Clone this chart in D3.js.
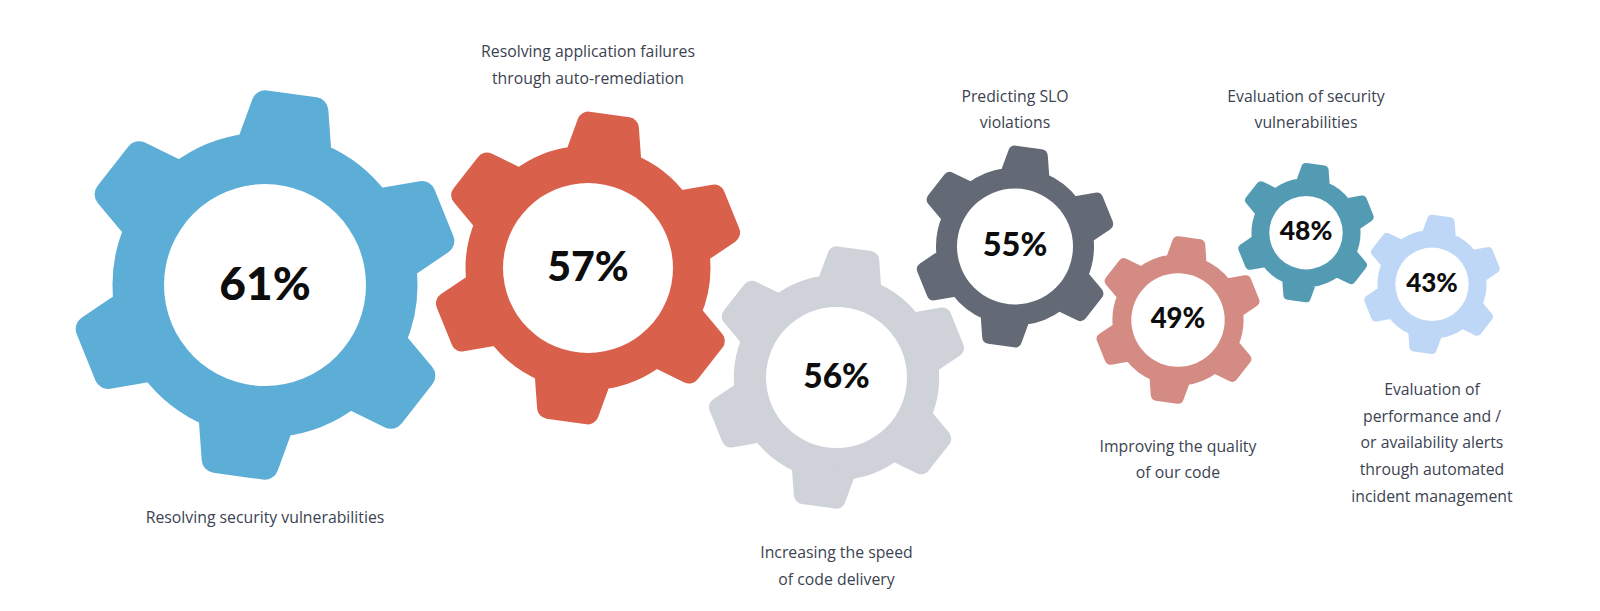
<!DOCTYPE html>
<html>
<head>
<meta charset="utf-8">
<script src="https://cdn.jsdelivr.net/npm/d3@7"></script>
<style>
  html, body { margin: 0; padding: 0; background: #fff; }
  .catText { font-family: "Open Sans", "Noto Sans", sans-serif; font-size: 15.8px; fill: #3b4351; }
  .pctText { font-family: "Lato", "Roboto", sans-serif; font-weight: 900; fill: #0d0d0d; }
</style>
</head>
<body>
<svg id="chart" width="1600" height="611"></svg>
<script>
// 数据
const categories = [
    ["Resolving security vulnerabilities"],
    ["Resolving application failures", "through auto-remediation"],
    ["Increasing the speed", "of code delivery"],
    ["Predicting SLO", "violations"],
    ["Improving the quality", "of our code"],
    ["Evaluation of security", "vulnerabilities"],
    ["Evaluation of", "performance and /", "or availability alerts", "through automated", "incident management"]
];
const values = [61, 57, 56, 55, 49, 48, 43];

// 布局 (与数据分开)
const gearX = [265, 588, 836.5, 1015, 1178, 1306, 1432];
const gearY = [285, 268, 377.5, 246.5, 320, 232.7, 284.3];
const gearR = [193, 155, 130, 100, 83, 69, 69];     // 齿顶半径
const holeR = [101, 85, 70.5, 58, 46.7, 36.7, 36.7]; // 中心白圈
const pctSize = [46, 41, 33.5, 32.5, 27.5, 26.5, 26];
const labelY = [523, 57.3, 558, 101.7, 451.7, 101.7, 395]; // 第一行基线
const colors = ["#5daed6", "#d9604a", "#cfd2d9", "#636a76", "#d48b83", "#539bb3", "#bed7f6"];

const lineHeight = 26.7;
const toothCount = 6;
const firstToothAngle = -82; // 度

// 齿轮轮廓 (向内收缩 cr, 再用同色描边 + round join 得到圆角)
function gearPath(R) {
    const cr = 0.07 * R;
    const Rt = R - cr;            // 齿顶
    const Rb = 0.79 * R - cr;     // 轮体
    const hb = 0.25 * R - cr;     // 齿根半宽
    const ht = 0.20 * R - cr;     // 齿顶半宽
    const ub = Math.sqrt(Rb * Rb - hb * hb);
    const pt = (a, u, p) => [u * Math.cos(a) - p * Math.sin(a), u * Math.sin(a) + p * Math.cos(a)];
    const path = d3.path();
    for (let i = 0; i < toothCount; i++) {
        const a = (firstToothAngle + i * 360 / toothCount) * Math.PI / 180;
        const bl = pt(a, ub, -hb), tl = pt(a, Rt, -ht), tr = pt(a, Rt, ht), br = pt(a, ub, hb);
        if (i == 0) path.moveTo(bl[0], bl[1]);
        else path.lineTo(bl[0], bl[1]);
        path.lineTo(tl[0], tl[1]);
        path.lineTo(tr[0], tr[1]);
        path.lineTo(br[0], br[1]);
        // 到下一个齿的弧
        const a2 = (firstToothAngle + (i + 1) * 360 / toothCount) * Math.PI / 180;
        const s = Math.atan2(br[1], br[0]);
        const nb = pt(a2, ub, -hb);
        let e = Math.atan2(nb[1], nb[0]);
        while (e < s) e += 2 * Math.PI;
        path.arc(0, 0, Rb, s, e, false);
    }
    path.closePath();
    return { d: path.toString(), cr: cr };
}

const gears = values.map((v, i) => ({
    value: v, lines: categories[i], x: gearX[i], y: gearY[i], r: gearR[i],
    hole: holeR[i], fs: pctSize[i], ly: labelY[i], color: colors[i]
}));

const svg = d3.select("#chart");

const g = svg.selectAll("g.gear")
    .data(gears)
    .join("g")
    .attr("class", "gear")
    .attr("transform", d => `translate(${d.x},${d.y})`);

g.append("path")
    .each(function (d) {
        const gp = gearPath(d.r);
        d3.select(this)
            .attr("d", gp.d)
            .attr("fill", d.color)
            .attr("stroke", d.color)
            .attr("stroke-width", gp.cr * 2)
            .attr("stroke-linejoin", "round");
    });

g.append("circle")
    .attr("r", d => d.hole)
    .attr("fill", "#fff");

g.append("text")
    .attr("class", "pctText")
    .attr("text-anchor", "middle")
    .attr("y", d => d.fs * 0.36 - 2)
    .style("font-size", d => d.fs + "px")
    .text(d => d.value + "%");

// 文字标签
svg.selectAll("text.catText")
    .data(gears)
    .join("text")
    .attr("class", "catText")
    .attr("text-anchor", "middle")
    .attr("x", d => d.x)
    .attr("y", d => d.ly)
    .selectAll("tspan")
    .data(d => d.lines.map((t, j) => ({ t: t, j: j, x: d.x })))
    .join("tspan")
    .attr("x", d => d.x)
    .attr("dy", d => d.j == 0 ? 0 : lineHeight)
    .text(d => d.t);
</script>
</body>
</html>
